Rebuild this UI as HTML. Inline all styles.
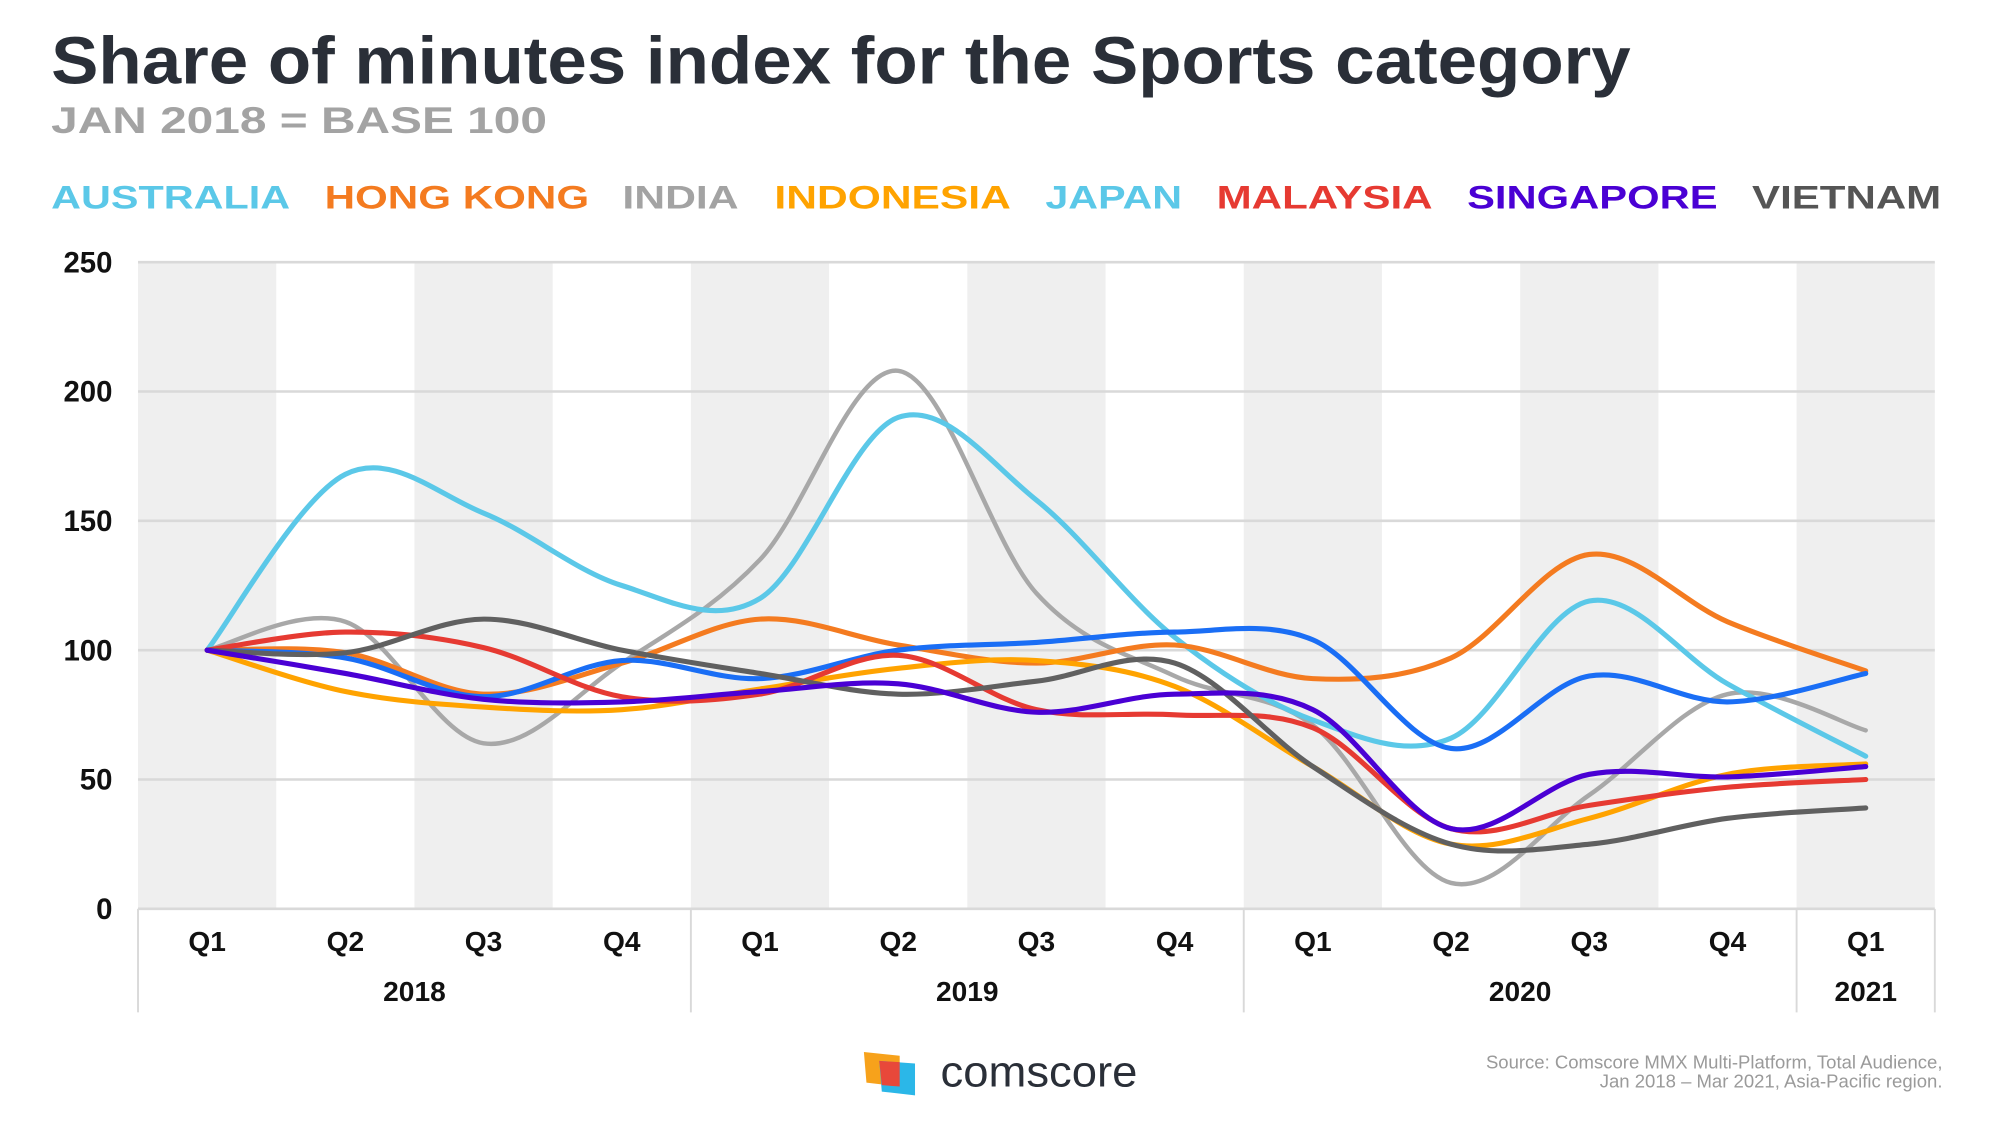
<!DOCTYPE html>
<html><head><meta charset="utf-8"><style>
html,body{margin:0;padding:0;background:#fff;}
svg{display:block;font-family:"Liberation Sans",sans-serif;}
</style></head><body>
<svg id="chart" width="2000" height="1125" viewBox="0 0 1565 880">
<text x="40" y="65" font-size="52" font-weight="bold" fill="#2a2f38" textLength="1236" lengthAdjust="spacingAndGlyphs">Share of minutes index for the Sports category</text>
<text x="40" y="104" font-size="29" font-weight="bold" fill="#a3a3a3" textLength="388" lengthAdjust="spacingAndGlyphs">JAN 2018 = BASE 100</text>
<g id="legend"></g>
<g id="bands"></g><g id="grid"></g><g id="yt"></g><g id="xt"></g><g id="lines"></g>
<g>
<polygon points="676,823 704,826 704,850 678,847" fill="#f7a21b"/>
<polygon points="688,830 716,832 716,857 690,854" fill="#2bb7e8"/>
<polygon points="688,830 704,831 704,850 690,849" fill="#e8483a"/>
<text x="736" y="850" font-size="34" fill="#2a2f38" textLength="154" lengthAdjust="spacingAndGlyphs">comscore</text>
</g>
<text x="1520" y="836" font-size="14.5" fill="#9a9a9a" text-anchor="end">Source: Comscore MMX Multi-Platform, Total Audience,</text>
<text x="1520" y="851" font-size="14.5" fill="#9a9a9a" text-anchor="end">Jan 2018 – Mar 2021, Asia-Pacific region.</text>
</svg>
<script>
const quarters=["Q1","Q2","Q3","Q4","Q1","Q2","Q3","Q4","Q1","Q2","Q3","Q4","Q1"];
const years=["2018","2019","2020","2021"];
const yearSpans=[4,4,4,1];
const yTicks=[0,50,100,150,200,250];
const seriesNames=["AUSTRALIA","HONG KONG","INDIA","INDONESIA","JAPAN","MALAYSIA","SINGAPORE","VIETNAM"];
const australia=[100,97,82,96,89,100,103,107,104,62,90,80,91];
const hongKong=[100,99,83,95,112,102,95,102,89,97,137,111,92];
const india=[100,111,64,95,135,208,122,90,71,10,44,83,69];
const indonesia=[100,84,78,77,85,93,96,86,55,25,35,52,56];
const japan=[100,168,153,125,120,190,158,105,73,66,119,87,59];
const malaysia=[100,107,101,82,83,98,77,75,70,31,40,47,50];
const singapore=[100,91,81,80,84,87,76,83,77,31,52,51,55];
const vietnam=[100,99,112,100,91,83,88,95,55,25,25,35,39];
const NS="http://www.w3.org/2000/svg";
const L=108,R=1514,T=205,B=711,YMAX=250;
const bw=(R-L)/quarters.length;
const xS=i=>L+bw*(i+0.5);
const yS=v=>B-(v/YMAX)*(B-T);
function mk(tag,attrs,parent){const e=document.createElementNS(NS,tag);for(const k in attrs)e.setAttribute(k,attrs[k]);parent.appendChild(e);return e;}
const legendCols=["#5bc8e8","#f47b20","#a3a3a3","#ffa300","#5bc8e8","#e63a32","#4a00d4","#555555"];
const legX=[40,254,487,606,818,952,1148,1371],legW=[187,207,91,185,107,169,196,148];
const lg=document.getElementById('legend');
seriesNames.forEach((n,i)=>{const t=mk('text',{x:legX[i],y:163,'font-size':25,'font-weight':'bold',fill:legendCols[i],textLength:legW[i],lengthAdjust:'spacingAndGlyphs'},lg);t.textContent=n;

});
const bands=document.getElementById('bands');
quarters.forEach((q,i)=>{if(i%2===0){const r=mk('rect',{x:L+bw*i,y:T,width:bw,height:B-T,fill:'#efefef'},bands);

}});
const grid=document.getElementById('grid'),yt=document.getElementById('yt');
yTicks.forEach(v=>{const l=mk('line',{x1:L,x2:R,y1:yS(v),y2:yS(v),stroke:'#d9d9d9','stroke-width':2},grid);


const t=mk('text',{x:88,y:yS(v)+8,'font-size':23,'font-weight':'bold','text-anchor':'end',fill:'#111'},yt);t.textContent=v;

});
const xt=document.getElementById('xt');
quarters.forEach((q,i)=>{const t=mk('text',{x:xS(i),y:744,'font-size':22,'font-weight':'bold','text-anchor':'middle',fill:'#111'},xt);t.textContent=q;

});
let acc=0;
mk('line',{x1:L,x2:L,y1:B,y2:792,stroke:'#d9d9d9','stroke-width':1.5},xt);
years.forEach((y,i)=>{const s=acc;acc+=yearSpans[i];const cx=L+bw*(s+acc)/2;
const t=mk('text',{x:cx,y:783,'font-size':22,'font-weight':'bold','text-anchor':'middle',fill:'#111'},xt);t.textContent=y;


const l=mk('line',{x1:L+bw*acc,x2:L+bw*acc,y1:B,y2:792,stroke:'#d9d9d9','stroke-width':1.5},xt);

});
function pathD(vals){const p=vals.map((v,i)=>[xS(i),yS(v)]);let d='M'+p[0][0]+','+p[0][1];
for(let i=0;i<p.length-1;i++){const p0=p[i-1]||p[i],p1=p[i],p2=p[i+1],p3=p[i+2]||p2;
const c1=[p1[0]+(p2[0]-p0[0])/6,p1[1]+(p2[1]-p0[1])/6],c2=[p2[0]-(p3[0]-p1[0])/6,p2[1]-(p3[1]-p1[1])/6];
d+=' C'+c1+' '+c2+' '+p2;}return d;}
const lines=document.getElementById('lines');
const order=[[india,'#a8a8a8',3.5,'india-line'],[japan,'#5bc8e8',4,'japan-line'],[hongKong,'#f47b20',4,'hong-kong-line'],[australia,'#1a6ef5',4,'australia-line'],[indonesia,'#ffa300',4,'indonesia-line'],[malaysia,'#e63a32',4,'malaysia-line'],[vietnam,'#606060',4,'vietnam-line'],[singapore,'#4a00d4',4,'singapore-line']];
order.forEach(o=>{const p=mk('path',{d:pathD(o[0]),fill:'none',stroke:o[1],'stroke-width':o[2],'stroke-linecap':'round'},lines);

});
</script>
</body></html>
